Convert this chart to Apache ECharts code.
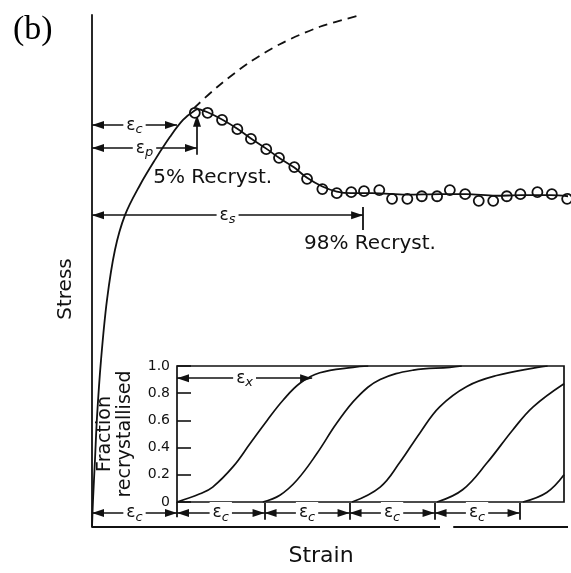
<!DOCTYPE html>
<html>
<head>
<meta charset="utf-8">
<script src="https://cdn.jsdelivr.net/npm/echarts@6/dist/echarts.min.js"></script>
<style>
  html, body { margin: 0; padding: 0; background: #fff; }
  #chart { width: 571px; height: 573px; }
</style>
</head>
<body>
<div id="chart"></div>
<script>
// Strain is expressed in units of the critical strain (εc = 1), stress in arbitrary units.

// Work-hardening part of the flow curve, up to the peak
const hardening = [
  [0, 0], [0.012, 5.3], [0.035, 13.1], [0.059, 21.5], [0.106, 32.6], [0.176, 44.3],
  [0.27, 54.1], [0.388, 60.9], [0.565, 66.8], [0.741, 71.7], [0.918, 76.2],
  [1.071, 79.5], [1.212, 81.4], [1.26, 81.6]
];

// Softening after the peak and the oscillating steady state
const softening = [
  [1.26, 81.6], [1.36, 81.0], [1.53, 79.6], [1.71, 77.8], [1.87, 75.9], [2.05, 73.9],
  [2.2, 72.1], [2.38, 70.2], [2.53, 68.2], [2.71, 66.5], [2.88, 65.5], [3.05, 65.2],
  [3.3, 65.2], [3.7, 64.9], [4.1, 65.0], [4.4, 65.0], [4.75, 64.7], [5.05, 64.8],
  [5.4, 64.8], [5.6, 64.6]
];

// Hardening curve continued as if no recrystallisation took place
const extrapolated = [
  [1.2, 81.8], [1.47, 85.9], [1.84, 90.6], [2.21, 94.3], [2.68, 97.7], [3.12, 99.8]
];

// Measured points
const measured = [
  [1.21, 80.9], [1.36, 80.9], [1.53, 79.5], [1.71, 77.7], [1.87, 75.8], [2.05, 73.8],
  [2.2, 72.1], [2.38, 70.3], [2.53, 68.0], [2.71, 66.0], [2.88, 65.2], [3.05, 65.4],
  [3.2, 65.6], [3.38, 65.8], [3.53, 64.1], [3.71, 64.1], [3.88, 64.6], [4.06, 64.6],
  [4.21, 65.8], [4.39, 65.0], [4.55, 63.7], [4.72, 63.7], [4.88, 64.6], [5.04, 65.0],
  [5.24, 65.4], [5.41, 65.0], [5.59, 64.1]
];

// Fraction recrystallised in each successive cycle
const cycle1 = [[1.0, 0], [1.27, 0.06], [1.42, 0.11], [1.66, 0.26], [1.86, 0.43], [2.06, 0.6], [2.25, 0.75], [2.45, 0.875], [2.68, 0.95], [3.07, 0.99], [3.25, 1.0]];
const cycle2 = [[2.01, 0], [2.21, 0.05], [2.41, 0.16], [2.65, 0.36], [2.88, 0.58], [3.12, 0.77], [3.39, 0.9], [3.78, 0.97], [4.21, 0.99], [4.35, 1.0]];
const cycle3 = [[3.06, 0], [3.39, 0.11], [3.62, 0.29], [3.86, 0.51], [4.09, 0.7], [4.41, 0.85], [4.76, 0.93], [5.24, 0.99], [5.36, 1.0]];
const cycle4 = [[4.06, 0], [4.36, 0.09], [4.65, 0.29], [4.95, 0.53], [5.19, 0.7], [5.553, 0.87]];
const cycle5 = [[5.07, 0], [5.35, 0.07], [5.553, 0.2]];

// Characteristic strains
const criticalStrain = 1.0;
const peakStrain = 1.235;
const steadyStrain = 3.19;
const recrystStrain = 2.59;          // εx, strain for 90 % recrystallisation
const cycleEnds = [0, 1.0, 2.03, 3.03, 4.03, 5.03];
const fractionTicks = [0, 0.2, 0.4, 0.6, 0.8, 1.0];

// Annotation texts
const notes = [
  { name: '5% Recryst.', value: [1.42, 68.2] },
  { name: '98% Recryst.', value: [3.27, 55.3] }
];

// ---- layout helpers ----
const ink = '#111';
const font = 'DejaVu Sans';
// arrow head with its tip at the centre of the symbol box
const head = 'path://M0,-12M0,0L3.5,12L-3.5,12Z';
const headSize = [8, 24];
const levels = { c: 78.5, p: 74.0, s: 60.9, row: 2.73 };

const epsLabel = {
  show: true,
  position: 'insideMiddle',
  formatter: p => '{e|ε}{s|' + p.name + '}',
  backgroundColor: '#fff',
  padding: [0, 3],
  rich: {
    e: { fontSize: 17, fontFamily: font, color: ink, lineHeight: 22, verticalAlign: 'middle' },
    s: { fontSize: 13, fontFamily: font, color: ink, lineHeight: 13, verticalAlign: 'bottom', fontStyle: 'italic' }
  }
};

const labelledArrows = [
  { name: 'c', coords: [[0, levels.c], [criticalStrain, levels.c]] },
  { name: 'p', coords: [[0, levels.p], [peakStrain, levels.p]] },
  { name: 's', coords: [[0, levels.s], [steadyStrain, levels.s]] }
];
for (let i = 0; i < cycleEnds.length - 1; i++) {
  labelledArrows.push({ name: 'c', coords: [[cycleEnds[i], levels.row], [cycleEnds[i + 1], levels.row]] });
}

const plainSegments = [
  { coords: [[steadyStrain, 58.0], [steadyStrain, 62.5]] },
  { coords: [[criticalStrain, 1.9], [criticalStrain, 4.9]] },
  { coords: [[0, 0], [4.094, 0]] },
  { coords: [[4.25, 0], [5.6, 0]] }
];
cycleEnds.slice(2).forEach(x => plainSegments.push({ coords: [[x, 1.4], [x, 4.7]] }));

const curveStyle = { color: ink, width: 1.8 };
const insetCurve = data => ({
  type: 'line', xAxisIndex: 1, yAxisIndex: 1, data,
  smooth: 0.4, symbol: 'none', lineStyle: { color: ink, width: 1.7 }, silent: true
});

const chart = echarts.init(document.getElementById('chart'), null, { renderer: 'canvas' });
chart.setOption({
  animation: false,
  backgroundColor: '#fff',
  textStyle: { fontFamily: font, color: ink },
  title: {
    text: '(b)', left: 8, top: 8,
    textStyle: { fontFamily: 'Liberation Serif', fontSize: 34, fontWeight: 'normal', color: '#000' }
  },
  grid: [
    { left: 92, top: 15, width: 476, height: 512 },
    { left: 177, top: 366, width: 387, height: 136, show: true, borderColor: ink, borderWidth: 1.7, backgroundColor: 'transparent' }
  ],
  xAxis: [
    {
      type: 'value', gridIndex: 0, min: 0, max: 5.6,
      axisLine: { show: false }, axisTick: { show: false }, axisLabel: { show: false }, splitLine: { show: false },
      name: 'Strain', nameLocation: 'middle', nameGap: 18,
      nameTextStyle: { fontSize: 22, fontFamily: font, color: ink, padding: [0, 18, 0, 0] }
    },
    {
      type: 'value', gridIndex: 1, min: 1.0, max: 5.553, show: false,
      splitLine: { show: false }
    }
  ],
  yAxis: [
    {
      type: 'value', gridIndex: 0, min: 0, max: 100,
      axisLine: { show: true, lineStyle: { color: ink, width: 1.8 } },
      axisTick: { show: false }, axisLabel: { show: false }, splitLine: { show: false },
      name: 'Stress', nameLocation: 'middle', nameGap: 16,
      nameTextStyle: { fontSize: 20, fontFamily: font, color: ink, padding: [0, 36, 0, 0] }
    },
    {
      type: 'value', gridIndex: 1, min: 0, max: 1, interval: 0.2,
      axisLine: { show: false },
      axisTick: { show: true, inside: true, length: 14, lineStyle: { color: ink, width: 1.6 } },
      axisLabel: {
        fontSize: 14, color: ink, margin: 7,
        formatter: v => fractionTicks.indexOf(v) === 0 ? '0' : v.toFixed(1)
      },
      splitLine: { show: false },
      name: 'Fraction\nrecrystallised', nameLocation: 'middle', nameGap: 42,
      nameTextStyle: { fontSize: 19, fontFamily: font, color: ink, lineHeight: 20 }
    }
  ],
  series: [
    { type: 'line', data: hardening, smooth: 0.35, symbol: 'none', lineStyle: curveStyle, silent: true },
    { type: 'line', data: softening, smooth: 0.35, symbol: 'none', lineStyle: curveStyle, silent: true },
    { type: 'line', data: extrapolated, smooth: 0.3, symbol: 'none', lineStyle: { color: ink, width: 1.8, type: [9, 6] }, silent: true },
    {
      type: 'scatter', data: measured, symbol: 'circle', symbolSize: 10, silent: true,
      itemStyle: { color: '#fff', borderColor: ink, borderWidth: 1.8, opacity: 1 }
    },
    {
      type: 'lines', coordinateSystem: 'cartesian2d', data: labelledArrows, clip: false, silent: true,
      symbol: [head, head], symbolSize: [headSize, headSize],
      lineStyle: { color: ink, width: 1.7, opacity: 1 }, itemStyle: { color: ink },
      label: epsLabel
    },
    {
      type: 'lines', coordinateSystem: 'cartesian2d', clip: false, silent: true,
      data: [{ coords: [[peakStrain, 72.7], [peakStrain, 80.5]] }],
      symbol: ['none', head], symbolSize: [headSize, headSize],
      lineStyle: { color: ink, width: 1.7, opacity: 1 }, itemStyle: { color: ink }
    },
    {
      type: 'lines', coordinateSystem: 'cartesian2d', clip: false, silent: true,
      data: plainSegments, symbol: ['none', 'none'],
      lineStyle: { color: ink, width: 1.8, opacity: 1 }
    },
    {
      type: 'scatter', data: notes, symbolSize: 0, silent: true,
      itemStyle: { opacity: 1 },
      label: { show: true, position: 'inside', formatter: p => p.name, fontSize: 20, fontFamily: font, color: ink }
    },
    insetCurve(cycle1),
    insetCurve(cycle2),
    insetCurve(cycle3),
    insetCurve(cycle4),
    insetCurve(cycle5),
    {
      type: 'lines', coordinateSystem: 'cartesian2d', xAxisIndex: 1, yAxisIndex: 1, clip: false, silent: true,
      data: [{ name: 'x', coords: [[criticalStrain, 0.91], [recrystStrain, 0.91]] }],
      symbol: [head, head], symbolSize: [headSize, headSize],
      lineStyle: { color: ink, width: 1.7, opacity: 1 }, itemStyle: { color: ink },
      label: epsLabel
    }
  ]
});
</script>
</body>
</html>
